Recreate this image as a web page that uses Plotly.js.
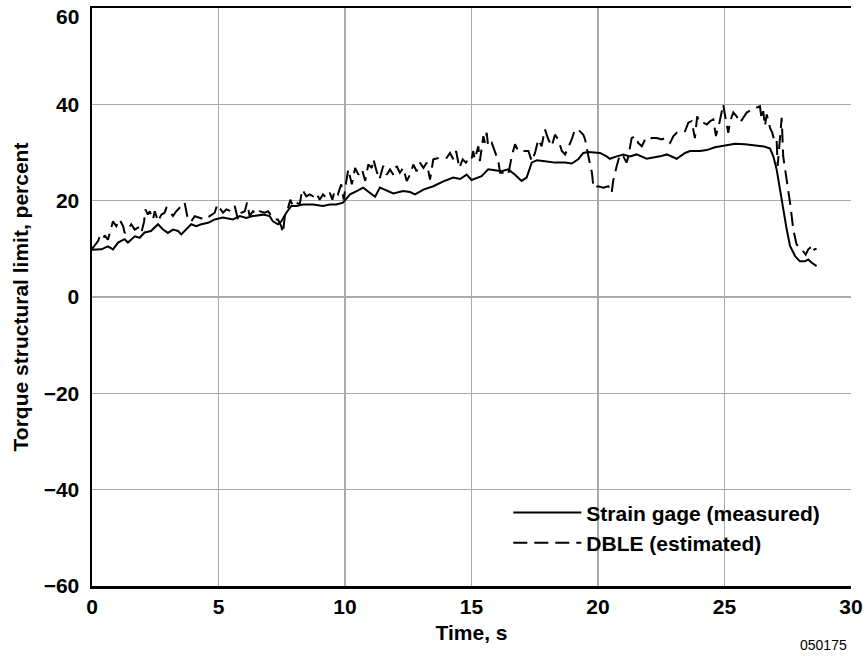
<!DOCTYPE html>
<html>
<head>
<meta charset="utf-8">
<script src="https://cdn.plot.ly/plotly-3.0.1.min.js"></script>
<style>html,body{margin:0;padding:0;background:#fff;}#chart{width:865px;height:657px;}</style>
</head>
<body>
<div id="chart"></div>
<script>
// Strain gage (measured)
const strainTime = [0,0.37,0.63,0.83,1.03,1.29,1.42,1.69,1.88,2.08,2.33,2.61,2.81,3.0,3.2,3.4,3.53,3.73,3.92,4.12,4.32,4.59,4.85,5.18,5.57,5.84,6.1,6.36,6.76,7.02,7.15,7.35,7.48,7.68,7.88,8.08,8.34,8.74,9.13,9.4,9.66,9.92,10.2,10.46,10.72,10.99,11.19,11.38,11.65,11.91,12.3,12.57,12.77,13.1,13.49,13.89,14.28,14.55,14.81,15.0,15.4,15.66,15.93,16.19,16.45,16.72,16.98,17.18,17.38,17.58,17.9,18.3,18.7,18.96,19.22,19.42,19.62,20.08,20.34,20.47,20.74,21.0,21.26,21.53,21.92,22.19,22.45,22.72,23.11,23.44,23.64,24.03,24.3,24.62,25.0,25.42,25.81,26.2,26.6,26.8,26.93,27.06,27.19,27.32,27.46,27.59,27.79,27.98,28.18,28.31,28.45,28.64];
const strainValue = [9.8,9.9,10.5,9.9,11.3,12.0,11.3,12.6,12.3,13.4,13.7,15.1,14.0,13.3,14.0,13.7,13.0,14.0,15.1,14.7,15.1,15.4,16.1,16.5,16.1,16.8,16.4,16.8,17.1,16.8,15.7,15.1,15.7,17.5,18.9,18.9,19.2,19.2,18.9,19.2,19.2,19.6,21.3,22.0,22.7,21.6,20.8,22.7,22.0,21.5,22.0,21.8,21.3,22.3,23.0,24.0,24.8,24.5,25.4,24.3,25.1,26.5,26.3,26.1,26.5,25.4,24.1,24.8,27.9,28.4,28.2,27.9,27.9,27.7,28.6,29.9,30.1,29.9,29.2,28.7,29.2,29.6,29.2,29.6,28.7,28.9,29.2,29.6,28.7,29.9,30.3,30.3,30.5,31.1,31.5,31.8,31.7,31.5,31.2,30.8,29.2,26.5,22.3,18.2,14.0,10.6,8.5,7.4,7.4,7.8,7.1,6.4];

// DBLE (estimated)
const dbleTime = [0,0.24,0.3,0.43,0.5,0.63,0.83,0.96,1.09,1.23,1.29,1.42,1.55,1.69,1.82,1.95,2.06,2.11,2.21,2.28,2.41,2.48,2.61,2.74,2.87,2.94,3.07,3.2,3.33,3.53,3.66,3.79,3.92,4.06,4.26,4.45,4.65,4.85,4.95,5.05,5.18,5.31,5.5,5.64,5.77,5.9,6.04,6.13,6.23,6.36,6.5,6.63,6.83,6.96,7.09,7.23,7.35,7.48,7.55,7.62,7.75,7.84,7.94,8.08,8.21,8.31,8.47,8.6,8.74,8.87,9.0,9.13,9.26,9.4,9.5,9.59,9.72,9.85,9.95,10.05,10.13,10.27,10.4,10.53,10.67,10.8,10.92,11.06,11.12,11.25,11.36,11.51,11.65,11.78,11.91,12.04,12.17,12.3,12.44,12.57,12.7,12.83,12.96,13.1,13.23,13.36,13.49,13.75,14.02,14.15,14.28,14.39,14.52,14.65,14.78,14.91,15.0,15.07,15.13,15.27,15.33,15.47,15.53,15.6,15.66,15.8,15.93,16.06,16.13,16.33,16.45,16.59,16.72,16.85,17.05,17.25,17.38,17.51,17.64,17.77,17.9,18.04,18.17,18.3,18.43,18.57,18.7,18.83,18.96,19.09,19.29,19.42,19.49,19.62,19.76,19.82,20.01,20.21,20.41,20.54,20.6,20.74,20.87,21.0,21.13,21.2,21.33,21.46,21.59,21.73,21.86,21.99,22.12,22.32,22.52,22.65,22.85,22.98,23.11,23.31,23.44,23.57,23.7,23.83,23.92,24.03,24.16,24.3,24.43,24.56,24.66,24.8,24.95,25.0,25.15,25.22,25.35,25.48,25.61,25.74,25.88,26.07,26.27,26.4,26.47,26.53,26.6,26.67,26.8,26.89,26.97,27.06,27.1,27.17,27.23,27.26,27.32,27.46,27.59,27.72,27.85,28.05,28.21,28.31,28.38,28.45,28.55,28.64];
const dbleValue = [10.0,11.6,12.5,11.9,12.8,11.9,15.7,14.7,16.1,14.7,13.3,14.0,15.1,14.0,14.4,13.3,15.7,18.2,17.1,17.8,16.1,17.8,15.7,17.1,17.5,18.5,17.8,16.8,17.8,18.9,19.6,16.1,15.7,16.8,16.4,16.1,16.8,17.5,19.2,18.5,17.5,18.2,17.8,18.9,16.1,17.5,17.8,19.6,16.8,17.8,17.1,17.8,17.5,17.8,16.8,16.1,16.1,14.7,13.3,16.8,18.5,20.2,18.9,19.6,19.2,22.3,20.9,21.3,20.9,21.6,20.2,21.3,20.6,21.6,20.2,22.0,21.3,23.4,20.2,24.0,26.5,23.4,26.8,25.4,26.5,24.1,27.5,26.8,28.6,26.1,24.4,27.2,25.4,26.5,25.4,27.2,25.8,26.8,24.1,25.4,27.5,26.1,27.9,26.8,27.9,24.4,28.6,28.9,28.9,29.9,28.6,30.3,26.8,28.6,27.9,28.9,28.6,30.3,28.6,31.3,28.2,33.4,32.0,34.1,31.3,32.0,29.9,28.2,25.8,25.8,25.4,29.2,31.7,30.3,30.3,30.3,28.2,29.9,32.7,31.3,34.8,32.7,31.3,33.7,32.7,30.3,29.6,31.0,32.7,34.8,34.4,33.7,32.7,29.2,25.8,22.7,23.0,22.7,23.0,21.6,24.1,27.2,29.6,29.2,27.9,29.2,33.0,33.4,32.0,31.3,32.7,32.4,33.0,33.0,32.7,33.0,32.0,33.4,34.1,34.1,34.4,36.2,36.5,33.0,37.5,36.2,36.2,35.8,36.5,36.9,33.4,36.2,40.0,38.3,34.1,36.5,38.3,37.5,36.2,37.2,38.3,38.9,39.3,39.6,36.9,38.6,35.5,37.9,35.1,34.1,32.4,32.7,27.2,31.3,36.2,37.2,29.2,24.4,19.6,14.0,10.9,9.9,8.8,9.9,10.2,9.2,9.9,10.0];

const seriesNames = ["Strain gage (measured)", "DBLE (estimated)"];
const xTicks = [0,5,10,15,20,25,30];
const yTicks = [-60,-40,-20,0,20,40,60];
const yTickText = ["\u221260","\u221240","\u221220","0","20","40",""];
const topTickLabel = "60";
const figureCode = "050175";

const FONT = "Liberation Sans, Arial, Helvetica, sans-serif";

const traces = [
  {x: strainTime, y: strainValue, name: seriesNames[0], type: "scatter", mode: "lines",
   line: {color: "#000", width: 2, dash: "solid"}},
  {x: dbleTime, y: dbleValue, name: seriesNames[1], type: "scatter", mode: "lines",
   line: {color: "#000", width: 2, dash: "14px,7px"}}
];

const layout = {
  width: 865, height: 657,
  margin: {l: 92, r: 14, t: 8, b: 71, pad: 0},
  paper_bgcolor: "#fff", plot_bgcolor: "#fff",
  font: {family: FONT, color: "#000", size: 20},
  showlegend: true,
  legend: {x: 0.5485, y: 0.162, xanchor: "left", yanchor: "top", bgcolor: "rgba(0,0,0,0)",
           font: {family: FONT, size: 21, color: "#000", weight: "bold"}, itemwidth: 68, tracegroupgap: 0},
  xaxis: {range: [0, 30], tickvals: xTicks, ticks: "", showgrid: true, gridcolor: "#aaaaaa", gridwidth: 1.5,
          showline: true, linecolor: "#000", linewidth: 2.5, mirror: true, zeroline: false,
          tickfont: {family: FONT, size: 21, weight: "bold"},
          title: {text: "Time, s", font: {family: FONT, size: 21, weight: "bold"}, standoff: 9}},
  yaxis: {range: [-60, 60], tickvals: yTicks, ticktext: yTickText, ticks: "", showgrid: true, gridcolor: "#aaaaaa", gridwidth: 1.5,
          showline: true, linecolor: "#000", linewidth: 2.5, mirror: false, zeroline: false,
          ticklabelstandoff: 6,
          tickfont: {family: FONT, size: 21, weight: "bold"},
          title: {text: "Torque structural limit, percent", font: {family: FONT, size: 21, weight: "bold"}, standoff: 10}},
  annotations: [
    {xref: "paper", yref: "paper", x: 0, y: 1, xanchor: "right", yanchor: "middle", xshift: -11, yshift: -8.5,
     showarrow: false, text: topTickLabel, font: {family: FONT, size: 21, color: "#000", weight: "bold"}},
    {xref: "paper", yref: "paper", x: 1, y: -0.102, xanchor: "right", yanchor: "middle", xshift: -2, showarrow: false,
     text: figureCode, font: {family: FONT, size: 14, color: "#000"}}
  ]
};

Plotly.newPlot("chart", traces, layout, {displayModeBar: false, staticPlot: true});
</script>
</body>
</html>
